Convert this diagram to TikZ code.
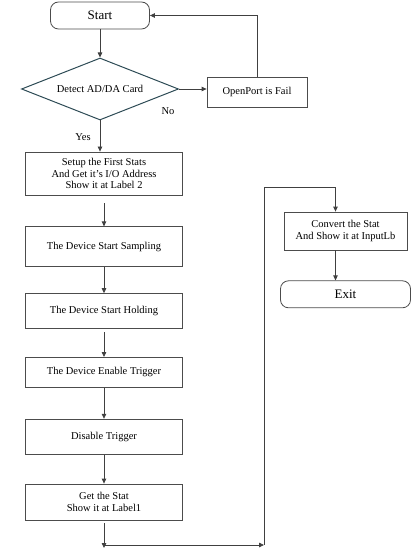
\documentclass[tikz,border=0pt]{standalone}
\usepackage{fontspec}
\setmainfont{Liberation Serif}
\usetikzlibrary{arrows.meta,positioning,shapes.geometric}
\tikzset{
  vegpont/.style={draw=black!70,line width=0.8pt,rounded corners=8pt,align=center,
                  font=\fontsize{13}{14}\selectfont,inner sep=2pt},
  dontes/.style={draw={rgb,255:red,45;green,75;blue,85},line width=1pt,diamond,aspect=2.5,
                 inner sep=0pt,minimum width=157pt,minimum height=62pt},
  doboz/.style={draw=black!70,line width=0.8pt,align=center,minimum width=157pt,inner sep=2pt},
  nyil/.style={-{Triangle[length=5pt,width=4.5pt]},draw=black!75,line width=0.8pt},
  cimke/.style={inner sep=1pt},
}
\begin{document}
\begin{tikzpicture}[x=1pt,y=-1pt,font=\fontsize{10.5}{11.5}\selectfont]
  \useasboundingbox (0,0) rectangle (412,553);
  \node[vegpont,minimum width=99pt,minimum height=27pt] (start) at (100,15.5) {Start};
  \node[dontes] (kartya) at (100,89) {Detect AD/DA Card};
  \node[doboz,minimum width=100pt,minimum height=30pt] (hiba) at (257,92) {OpenPort is Fail};
  \node[cimke] (nem) at (168,111) {No};
  \node[doboz,minimum height=43pt] (beall) at (104,173.5)
    {Setup the First Stats\\And Get it's I/O Address\\Show it at Label 2};
  \node[doboz,minimum height=40pt,below=31pt of beall] (mintav) {The Device Start Sampling};
  \node[doboz,minimum height=35pt,below=26pt of mintav] (tartas) {The Device Start Holding};
  \node[doboz,minimum height=30pt,below=28pt of tartas] (enged) {The Device Enable Trigger};
  \node[doboz,minimum height=35pt,below=31pt of enged] (tilt) {Disable Trigger};
  \node[doboz,minimum height=36pt,below=29pt of tilt] (lekeres) {Get the Stat\\Show it at Label1};
  \node[doboz,minimum width=123pt,minimum height=38pt] (atvalt) at (345.5,231)
    {Convert the Stat\\And Show it at InputLb};
  \node[vegpont,minimum width=130pt,minimum height=27pt,below=30pt of atvalt] (kilep) {Exit};
  \coordinate (also) at (104,545);
  \coordinate (fordul) at (264,545);
  \draw[nyil] (start) -- (kartya);
  \draw[nyil] (kartya.east) -- (kartya.east -| hiba.west);
  \draw[nyil] (hiba.north) |- (start.east);
  \draw[nyil] (kartya.south) -- node[cimke,left=8pt,pos=0.55] {Yes} (kartya.south |- beall.north);
  \draw[nyil,shorten <=8pt] (beall) -- (mintav);
  \draw[nyil] (mintav) -- (tartas);
  \draw[nyil,shorten <=3pt] (tartas) -- (enged);
  \draw[nyil] (enged) -- (tilt);
  \draw[nyil] (tilt) -- (lekeres);
  \draw[nyil,shorten <=3pt] (lekeres.south) -- ([yshift=-3pt]also);
  \draw[nyil] (also) -- (fordul);
  \draw[nyil] (fordul) -- ++(0,-358) -| ([xshift=-10pt]atvalt.north);
  \draw[nyil] ([xshift=-10pt]atvalt.south) -- ([xshift=-10pt]atvalt.south |- kilep.north);
\end{tikzpicture}
\end{document}
